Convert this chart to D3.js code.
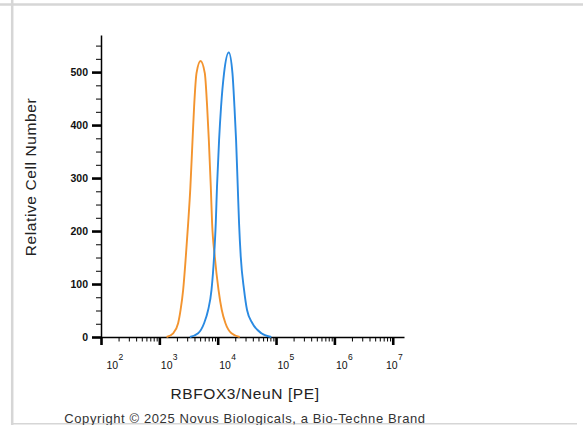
<!DOCTYPE html>
<html>
<head>
<meta charset="utf-8">
<script src="https://cdn.jsdelivr.net/npm/d3@7"></script>
<style>
  html, body { margin: 0; padding: 0; background: #fff; }
  svg { display: block; }
  text { font-family: "Liberation Sans", Arial, sans-serif; }
</style>
</head>
<body>
<svg id="chart" width="583" height="425"></svg>
<script>
// ---- data ----
const xDecades = [2, 3, 4, 5, 6, 7];            // tick label exponents: 10^2 ... 10^7
const yMajorTicks = [0, 100, 200, 300, 400, 500];
const yTitle = "Relative Cell Number";
const xTitle = "RBFOX3/NeuN [PE]";
const footer = "Copyright \u00A9 2025 Novus Biologicals, a Bio-Techne Brand";

// control (orange) histogram: intensity, count
const controlX = [1330, 1726, 2099, 2312, 2559, 2844, 3119, 3396, 3707, 3945, 4335, 5082,
                  6012, 6592, 7047, 7621, 8017, 8913, 10328, 11749, 13583, 17219, 23878];
const controlY = [0, 7, 26, 51, 89, 152, 215, 281, 372, 435, 498, 521,
                  498, 435, 372, 283, 215, 152, 89, 51, 26, 7, 0];
// stained (blue) histogram
const stainedX = [3334, 4624, 5848, 6855, 7834, 8670, 9268, 9727, 10568, 11429, 12853, 15488,
                  17906, 19364, 20654, 22080, 23227, 24831, 28314, 31842, 39355, 56105, 83176];
const stainedY = [0, 7, 26, 51, 89, 152, 215, 283, 372, 435, 498, 537,
                  498, 435, 372, 283, 215, 152, 89, 51, 26, 7, 0];

// ---- drawing ----
const svg = d3.select("#chart");

// page frame (grey lines)
const frame = svg.append("g").attr("stroke", "#d6d6d6").attr("stroke-width", 2.5);
frame.append("line").attr("x1", 0).attr("x2", 583).attr("y1", 4.5).attr("y2", 4.5);
frame.append("line").attr("x1", 12.2).attr("x2", 12.2).attr("y1", 0).attr("y2", 425);
frame.append("line").attr("x1", 12).attr("x2", 577).attr("y1", 423.8).attr("y2", 423.8).attr("stroke-width", 1.5);

const x = d3.scaleLog().domain([1e2, 1.56e7]).range([101, 404]);
const y = d3.scaleLinear().domain([0, 570]).range([337, 35]);

// y axis
const yMinor = d3.range(0, 575, 25).filter(v => v % 100 !== 0);
svg.append("g").attr("transform", "translate(101,0)")
  .call(d3.axisLeft(y).tickValues(yMinor).tickSize(5).tickSizeOuter(0).tickFormat(""))
  .call(g => g.select(".domain").attr("stroke", "#000").attr("stroke-width", 1.5))
  .call(g => g.selectAll(".tick line").attr("stroke", "#000").attr("stroke-width", 1));
svg.append("g").attr("transform", "translate(101,0)")
  .call(d3.axisLeft(y).tickValues(yMajorTicks).tickSize(9).tickSizeOuter(0).tickPadding(4))
  .call(g => g.select(".domain").remove())
  .call(g => g.selectAll(".tick line").attr("stroke", "#000").attr("stroke-width", 2.6))
  .call(g => g.selectAll(".tick text").attr("fill", "#111").attr("font-size", "10.5px")
    .attr("font-weight", "bold").attr("font-family", "'Liberation Sans', Arial, sans-serif"));

// x axis
const xMinor = [];
xDecades.slice(0, -1).forEach(e => { for (let k = 2; k <= 9; k++) xMinor.push(k * Math.pow(10, e)); });
const xMajor = xDecades.map(e => Math.pow(10, e));
svg.append("g").attr("transform", "translate(0,337)")
  .call(d3.axisBottom(x).tickValues(xMinor).tickSize(4.5).tickSizeOuter(0).tickFormat(""))
  .call(g => g.select(".domain").attr("stroke", "#000").attr("stroke-width", 1.5))
  .call(g => g.selectAll(".tick line").attr("stroke", "#000").attr("stroke-width", 1));
svg.append("g").attr("transform", "translate(0,337)")
  .call(d3.axisBottom(x).tickValues(xMajor).tickSize(8).tickSizeOuter(0).tickFormat(""))
  .call(g => g.select(".domain").remove())
  .call(g => g.selectAll(".tick line").attr("stroke", "#000").attr("stroke-width", 2.6));

// decade labels 10^n (kept inside the axis span at both ends)
const labelG = svg.append("g").attr("fill", "#111");
xDecades.forEach(e => {
  const px = Math.max(106.5, Math.min(386, x(Math.pow(10, e)) + 1.5));
  labelG.append("text").attr("x", px).attr("y", 368.5)
    .attr("font-size", "10.5px").text("10");
  labelG.append("text").attr("x", px + 12).attr("y", 360)
    .attr("font-size", "8.5px").text(String(e));
});

// histograms
const line = d3.line().x(d => x(d[0])).y(d => y(d[1])).curve(d3.curveMonotoneX);
svg.append("path").datum(d3.zip(controlX, controlY))
  .attr("d", line).attr("fill", "none").attr("stroke", "#f3942f").attr("stroke-width", 1.9);
svg.append("path").datum(d3.zip(stainedX, stainedY))
  .attr("d", line).attr("fill", "none").attr("stroke", "#2a8ae2").attr("stroke-width", 1.9);

// titles
svg.append("text").attr("transform", "translate(36,177) rotate(-90)")
  .attr("text-anchor", "middle").attr("font-size", "15.5px").attr("fill", "#222")
  .attr("letter-spacing", "0.6px").text(yTitle);
svg.append("text").attr("x", 245).attr("y", 399)
  .attr("text-anchor", "middle").attr("font-size", "15.5px").attr("fill", "#222")
  .attr("letter-spacing", "0.6px").text(xTitle);
svg.append("text").attr("x", 245).attr("y", 422.5)
  .attr("text-anchor", "middle").attr("font-size", "13px").attr("fill", "#333")
  .attr("letter-spacing", "0.6px").text(footer);
</script>
</body>
</html>
